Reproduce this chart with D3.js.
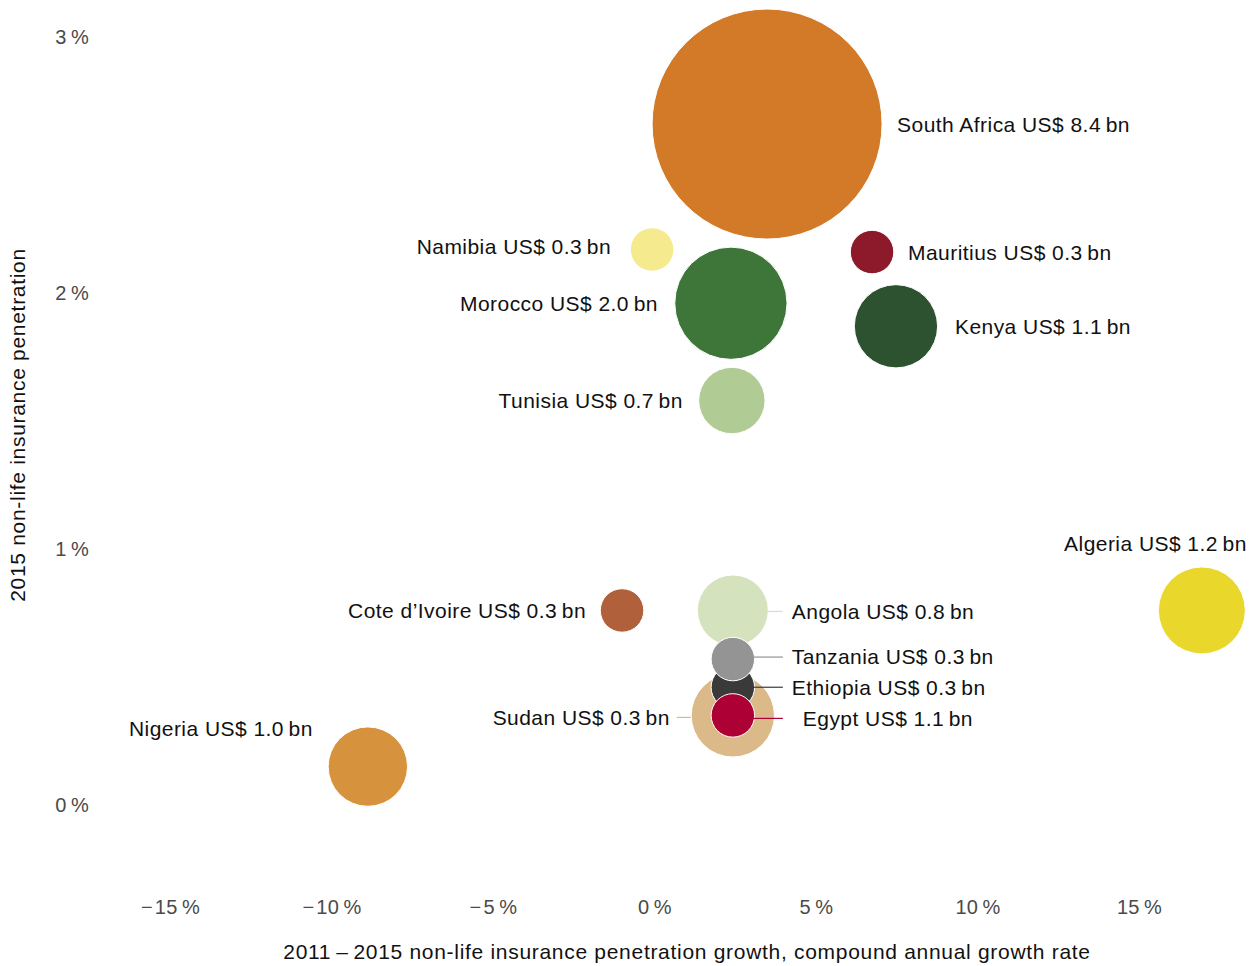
<!DOCTYPE html>
<html>
<head>
  <meta charset="utf-8">
  <script src="https://d3js.org/d3.v7.min.js"></script>
  <style>
    body { margin: 0; background: #fff; }
    svg text { font-family: "Liberation Sans", Arial, sans-serif; }
    .tick-label { fill: #4a4a4a; font-size: 20px; letter-spacing: 0.3px; }
    .bubble-label { fill: #111; font-size: 21px; letter-spacing: 0.45px; }
    .axis-title { fill: #111; font-size: 21px; letter-spacing: 0.7px; }
  </style>
</head>
<body>
<svg width="1255" height="966"></svg>
<script>
// data
var countries  = ["South Africa", "Morocco", "Algeria", "Kenya", "Sudan", "Nigeria", "Angola", "Tunisia",
                  "Namibia", "Mauritius", "Cote d\u2019Ivoire", "Ethiopia", "Egypt", "Tanzania"];
var growth     = [3.47, 2.35, 16.93, 7.46, 2.41, -8.89, 2.41, 2.38, -0.09, 6.72, -1.02, 2.41, 2.41, 2.41];   // CAGR %
var penetration = [2.66, 1.96, 0.76, 1.87, 0.35, 0.15, 0.76, 1.58, 2.17, 2.16, 0.76, 0.46, 0.35, 0.57];   // 2015 %
var premiumLabel = [8.4, 2.0, 1.2, 1.1, 0.3, 1.0, 0.8, 0.7, 0.3, 0.3, 0.3, 0.3, 1.1, 0.3];              // US$ bn, as labelled
// bubble area as drawn in the picture (Sudan and Egypt look swapped against their labels)
var bubbleValue = [8.4, 2.0, 1.2, 1.1, 1.1, 1.0, 0.8, 0.7, 0.3, 0.3, 0.3, 0.3, 0.3, 0.3];
var xTicks = [-15, -10, -5, 0, 5, 10, 15];
var yTicks = [0, 1, 2, 3];

var colors = {
  "South Africa": "#d27a28", "Morocco": "#3e7539", "Algeria": "#e9d72c", "Kenya": "#2d5230",
  "Sudan": "#dcb988", "Nigeria": "#d6923c", "Angola": "#d4e3bd", "Tunisia": "#b0cb94",
  "Namibia": "#f6ea8f", "Mauritius": "#8c1a2a", "Cote d\u2019Ivoire": "#b0603a",
  "Ethiopia": "#3a3a3a", "Egypt": "#ad0034", "Tanzania": "#949494"
};

// label placement relative to bubble: side, dx/dy from centre, optional leader line
var placement = {
  "South Africa": { anchor: "start", dx: 130, dy: 1 },
  "Morocco":      { anchor: "end",   dx: -73, dy: 0 },
  "Algeria":      { anchor: "end",   dx: 45,  dy: -67 },
  "Kenya":        { anchor: "start", dx: 59,  dy: 0 },
  "Sudan":        { anchor: "end",   dx: -63, dy: 2, line: [-56, -42] },
  "Nigeria":      { anchor: "end",   dx: -55, dy: -38 },
  "Angola":       { anchor: "start", dx: 59,  dy: 1, line: [35, 50] },
  "Tunisia":      { anchor: "end",   dx: -49, dy: 0 },
  "Namibia":      { anchor: "end",   dx: -41, dy: -3 },
  "Mauritius":    { anchor: "start", dx: 36,  dy: 1 },
  "Cote d\u2019Ivoire": { anchor: "end", dx: -36, dy: 0 },
  "Ethiopia":     { anchor: "start", dx: 59,  dy: 0, line: [20, 50] },
  "Egypt":        { anchor: "start", dx: 70,  dy: 3, line: [20, 50] },
  "Tanzania":     { anchor: "start", dx: 59,  dy: -2, line: [20, 50] }
};

var svg = d3.select("svg");

var x = d3.scaleLinear().domain([-15, 15]).range([170.5, 1139.5]);
var y = d3.scaleLinear().domain([0, 3]).range([805, 37]);
var r = d3.scaleSqrt().domain([0, 8.4]).range([0, 115]);

var data = countries.map(function(c, i) {
  return { name: c, gx: growth[i], py: penetration[i], prem: premiumLabel[i], size: bubbleValue[i] };
});

function pct(v) {
  return (v < 0 ? "\u2212\u200a" : "") + Math.abs(v) + "\u2009%";
}

// x tick labels
svg.append("g").selectAll("text")
  .data(xTicks)
  .enter().append("text")
    .attr("class", "tick-label")
    .attr("x", function(d) { return x(d); })
    .attr("y", 914)
    .attr("text-anchor", "middle")
    .text(pct);

// y tick labels
svg.append("g").selectAll("text")
  .data(yTicks)
  .enter().append("text")
    .attr("class", "tick-label")
    .attr("x", 89)
    .attr("y", function(d) { return y(d); })
    .attr("dy", "0.35em")
    .attr("text-anchor", "end")
    .text(pct);

// axis titles
svg.append("text")
  .attr("class", "axis-title")
  .attr("x", 687)
  .attr("y", 959)
  .attr("text-anchor", "middle")
  .text("2011\u2009\u2013\u20092015 non-life insurance penetration growth, compound annual growth rate");

svg.append("text")
  .attr("class", "axis-title")
  .attr("transform", "translate(25,425) rotate(-90)")
  .attr("text-anchor", "middle")
  .text("2015 non-life insurance penetration");

// bubbles, biggest first so small ones sit on top
var ordered = data.slice().sort(function(a, b) { return b.size - a.size; });
svg.append("g").selectAll("circle")
  .data(ordered)
  .enter().append("circle")
    .attr("cx", function(d) { return x(d.gx); })
    .attr("cy", function(d) { return y(d.py); })
    .attr("r", function(d) { return r(d.size); })
    .attr("fill", function(d) { return colors[d.name]; })
    .attr("stroke", "#fff")
    .attr("stroke-width", 1);

// leader lines, over the bubbles
var withLines = data.filter(function(d) { return placement[d.name].line; });
svg.append("g").selectAll("line")
  .data(withLines)
  .enter().append("line")
    .attr("x1", function(d) { return x(d.gx) + placement[d.name].line[0]; })
    .attr("x2", function(d) { return x(d.gx) + placement[d.name].line[1]; })
    .attr("y1", function(d) { return y(d.py) + placement[d.name].dy; })
    .attr("y2", function(d) { return y(d.py) + placement[d.name].dy; })
    .attr("stroke", function(d) { return colors[d.name]; })
    .attr("stroke-width", 1.2);

// labels
svg.append("g").selectAll("text")
  .data(data)
  .enter().append("text")
    .attr("class", "bubble-label")
    .attr("x", function(d) { return x(d.gx) + placement[d.name].dx; })
    .attr("y", function(d) { return y(d.py) + placement[d.name].dy; })
    .attr("dy", "0.35em")
    .attr("text-anchor", function(d) { return placement[d.name].anchor; })
    .text(function(d) { return d.name + " US$ " + d.prem.toFixed(1) + "\u2009bn"; });
</script>
</body>
</html>
